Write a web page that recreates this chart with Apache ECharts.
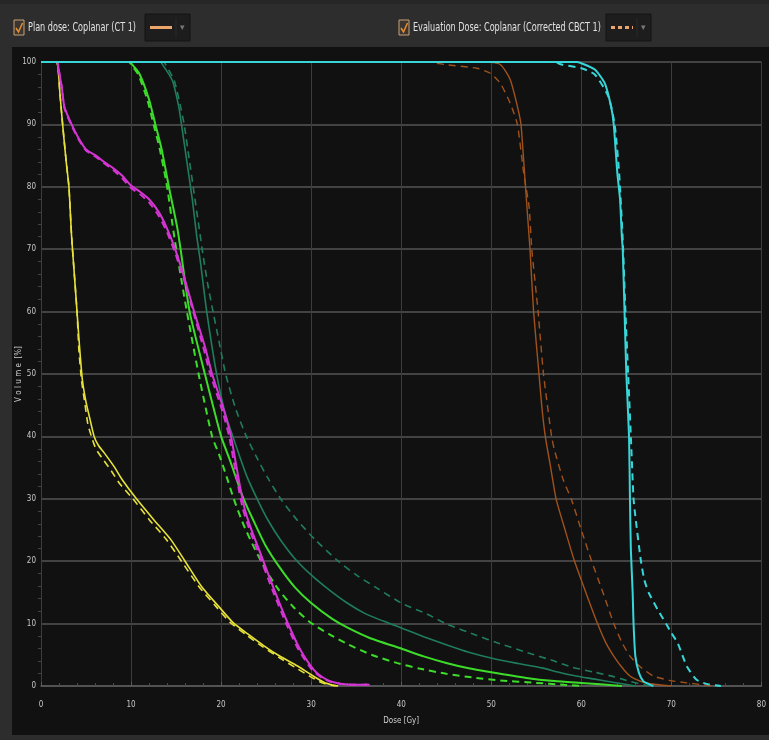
<!DOCTYPE html>
<html>
<head>
<meta charset="utf-8">
<script src="https://cdn.jsdelivr.net/npm/echarts@6/dist/echarts.min.js"></script>
<style>
html,body{margin:0;padding:0;background:#2d2d2d;}
#c{width:769px;height:740px;}
</style>
</head>
<body>
<div id="c"></div>
<script>
// Axis ticks
const xTicks = [0,10,20,30,40,50,60,70,80];
const yTicks = [0,10,20,30,40,50,60,70,80,90,100];
const legendPlan = 'Plan dose: Coplanar (CT 1)';
const legendEval = 'Evaluation Dose: Coplanar (Corrected CBCT 1)';

// [dose Gy, volume %]
const yellowPlan = [[0,100],[1.7,100],[1.9,99],[2.1,95],[2.4,90],[2.8,84],[3.1,80],[3.4,72],[3.7,66],[4.0,60],[4.3,54],[4.6,49],[5.0,45.5],[5.4,43],[5.9,40],[6.4,38.5],[7.0,37.4],[8.1,35.2],[9.0,33.1],[10.6,30],[12.5,26.7],[14.4,23.5],[16.0,20],[17.8,16],[19.7,12.8],[21.3,10.2],[23.0,8.3],[24.8,6.4],[26.5,4.8],[28.5,3.2],[30.0,1.8],[31.4,0.6],[32.5,0.1],[33,0]];
const yellowEval = [[0,100],[1.7,100],[1.9,99],[2.1,95],[2.4,90],[2.8,84],[3.1,80],[3.4,72],[3.7,66],[4.0,60],[4.2,54],[4.5,49],[4.9,45],[5.2,42],[5.6,40],[6.1,38],[6.8,36.5],[7.8,34.5],[8.7,32.5],[10.2,30],[12.0,26.7],[13.9,23.5],[15.6,20],[17.5,16],[19.4,12.8],[21.0,10.2],[22.8,8.2],[24.6,6.3],[26.4,4.6],[28.2,3.0],[29.8,1.6],[31.2,0.5],[32.3,0.1],[33,0]];

const magentaPlan = [[0,100],[1.8,100],[1.9,99.3],[2.3,96],[2.6,92.8],[3.4,90],[4.1,88],[5.0,86],[6.1,85],[7.0,84],[8.0,83],[9.0,81.8],[10.0,80.2],[11.0,79.2],[12.0,78],[13.1,75.9],[14.0,73.3],[14.9,70],[16.0,65],[17.0,60],[18.2,54.4],[19.0,50],[20.4,43.8],[21.1,40],[21.6,36],[22.1,32],[22.6,28.5],[23.3,25.3],[24.2,21.9],[25.9,15.4],[27.4,10.1],[28.8,5.8],[30.3,2.6],[31.5,1.2],[32.5,0.6],[34,0.25],[36.5,0.2]];
const magentaEval = [[0,100],[1.8,100],[1.9,99.3],[2.3,96],[2.6,92.6],[3.4,89.8],[4.1,87.8],[5.0,85.8],[6.1,84.8],[7.0,83.8],[8.0,82.7],[9.0,81.4],[10.0,79.8],[11.0,78.8],[12.0,77.5],[13.1,75.3],[14.0,72.7],[14.9,69.4],[15.9,65],[16.9,60],[18.0,54.4],[18.8,50],[20.2,43.8],[20.9,40],[21.4,36],[21.9,32],[22.4,28.5],[23.1,25.3],[24.0,21.9],[25.7,15.4],[27.2,10.1],[28.6,5.8],[30.1,2.6],[31.3,1.2],[32.3,0.6],[33.8,0.25],[36.3,0.2]];

const greenPlan = [[0,100],[9.8,100],[10.0,99.8],[10.9,98.2],[12.0,94],[12.7,90],[13.4,86],[14.2,80],[15.1,73.7],[15.5,70],[16.5,60],[18.2,50],[20.0,40],[20.9,36.5],[21.7,33.2],[22.5,30],[23.5,26.8],[24.9,22.6],[26.5,19],[28.2,15.8],[30.0,13.3],[32.3,10.8],[34.1,9.3],[36.5,7.7],[40.0,6.0],[42.5,4.75],[45.0,3.7],[47.5,2.85],[50.0,2.2],[53.9,1.3],[57.0,0.8],[60.0,0.5],[62.5,0.25],[64.5,0]];
const greenEval = [[0,100],[9.8,100],[10.0,99.6],[10.8,98],[11.8,94],[12.5,90],[13.2,86],[14.0,80],[14.8,72],[15.6,65],[16.2,60],[17.5,50],[19.0,40],[19.8,37],[20.6,33.6],[21.4,30],[22.5,25.8],[23.8,21.8],[25.0,18.5],[26.4,15.4],[28.0,12.7],[29.8,10.3],[32.0,8.3],[34.2,6.6],[36.7,5.0],[39.5,3.7],[42.0,2.8],[45.0,1.95],[48.0,1.35],[51.0,0.9],[55.0,0.5],[58.0,0.2],[60.0,0]];

const darkGreenPlan = [[0,100],[13.2,100],[13.4,99.8],[14.6,97],[15.3,92.8],[15.6,90],[16.2,84],[16.8,78],[17.3,72],[17.7,68],[18.4,60],[19.5,50],[20.4,44],[21.3,40],[22.8,33.8],[24.0,30],[25.2,26.6],[26.6,23.4],[28.2,20.4],[30.0,17.8],[32.0,15.4],[34.0,13.3],[36.0,11.6],[38.0,10.4],[40.0,9.3],[42.5,7.9],[45.0,6.6],[47.5,5.4],[50.2,4.4],[53.0,3.6],[55.6,2.9],[57.5,2.2],[59.4,1.6],[61.5,1.1],[63.5,0.6],[66,0]];
const darkGreenEval = [[0,100],[13.6,100],[13.8,99.7],[14.8,97],[15.5,92.8],[15.9,90],[16.5,84],[17.0,79],[17.5,74],[18.0,69],[18.5,64.5],[19.1,60],[19.8,55],[20.5,50],[21.6,44.5],[22.8,40],[24.0,36.5],[25.2,33.3],[26.7,29.8],[28.5,26.5],[30.4,23.5],[33.0,20],[35.0,17.8],[37.4,15.6],[40.0,13.3],[42.9,11.5],[45.1,9.9],[48.4,8.1],[50.5,7.0],[53.9,5.4],[57.0,4.0],[59.0,3.0],[61.5,2.2],[63.6,1.5],[65.5,0.7],[67,0.2],[68,0]];

const brownPlan = [[0,100],[49.5,100],[51.0,99.6],[52.1,97.2],[52.9,92.9],[53.3,90],[53.8,80],[54.2,72],[54.3,70],[54.7,60],[55.3,50],[55.6,45],[56.0,40],[56.6,35],[57.2,30],[58.2,25],[59.2,20.2],[60.5,15],[61.8,10],[62.7,7],[63.6,4.8],[64.5,3],[65.4,1.6],[66.5,0.8],[67.5,0.4],[70,0]];
const brownEval = [[0,100],[43,100],[44.8,99.6],[48.4,99],[49.9,98.2],[51.0,96.6],[52.1,93.4],[52.9,90],[53.6,82.2],[54.2,76.8],[54.5,70],[55.2,60],[55.8,50],[56.7,40],[57.0,37.9],[58.0,33],[58.9,29.9],[60.0,25],[61.1,20.2],[62.4,15],[63.6,10],[64.5,7],[65.4,4.8],[66.6,3],[68,1.6],[69.8,0.9],[71.7,0.5],[73.5,0.2],[74.5,0]];

const cyanPlan = [[0,100],[59.5,100],[60.0,99.8],[61.5,98.8],[62.6,96.6],[63.3,92.9],[63.6,90],[64.0,82.2],[64.3,78],[64.5,72],[64.6,70],[64.8,60],[65.0,50],[65.3,40],[65.4,30],[65.5,21.9],[65.7,15],[65.8,10],[66.0,4.8],[66.4,2.1],[66.9,0.75],[67.5,0.3],[68.0,0]];
const cyanEval = [[0,100],[57,100],[57.8,99.6],[60.0,99],[61.5,98],[63.0,94.5],[63.7,90],[64.2,82.2],[64.6,71.5],[64.9,60],[65.2,50],[65.5,40],[65.8,30],[66.0,27.2],[66.6,20.2],[67.0,17],[67.5,14.9],[68.5,12.2],[69.4,10],[70.0,8.5],[70.7,6.9],[71.7,3.2],[72.8,1.0],[74,0.3],[75.5,0]];

const curves = [
  {name:'darkGreen', plan:darkGreenPlan, evalD:darkGreenEval, color:'#1f7d5c', w:1.6},
  {name:'green', plan:greenPlan, evalD:greenEval, color:'#3ddc2a', w:2},
  {name:'yellow', plan:yellowPlan, evalD:yellowEval, color:'#e6e23a', w:1.6},
  {name:'magenta', plan:magentaPlan, evalD:magentaEval, color:'#d435d4', w:2},
  {name:'brown', plan:brownPlan, evalD:brownEval, color:'#a0521c', w:1.4},
  {name:'cyan', plan:cyanPlan, evalD:cyanEval, color:'#38d6d8', w:2}
];

const series = [];
curves.forEach(c => {
  series.push({type:'line', name:c.name+' eval', data:c.evalD, showSymbol:false, smooth:0.2,
    lineStyle:{color:c.color, width:c.w, type:[7,5]}, silent:true, animation:false});
  series.push({type:'line', name:c.name+' plan', data:c.plan, showSymbol:false, smooth:0.2,
    lineStyle:{color:c.color, width:c.w, type:'solid'}, silent:true, animation:false});
});

const txtFont = "'Liberation Sans Narrow','DejaVu Sans Condensed',sans-serif";
const axisFont = "'DejaVu Sans Condensed','Liberation Sans Narrow',sans-serif";

function checkbox(x){
  return [
    {type:'rect', shape:{x:x, y:20, width:10, height:15}, style:{fill:'#3a3530', stroke:'#c9a276', lineWidth:1}},
    {type:'polyline', shape:{points:[[x+2,28],[x+4.5,32],[x+8.5,23]]}, style:{stroke:'#e8902e', lineWidth:1.5, fill:null}}
  ];
}
function dropdown(x, dashed){
  const els = [
    {type:'rect', shape:{x:x, y:14, width:45, height:27}, style:{fill:'#1d1d1d', stroke:'#141414', lineWidth:1}},
    {type:'line', shape:{x1:x+31, y1:18, x2:x+31, y2:37}, style:{stroke:'#2a2a2a', lineWidth:1}},
    {type:'text', style:{x:x+37, y:28, text:'▾', fill:'#777', font:'9px sans-serif', textAlign:'center', textVerticalAlign:'middle'}}
  ];
  els.push({type:'line', shape:{x1:x+5, y1:27.5, x2:x+27, y2:27.5},
    style:{stroke:'#e9a56a', lineWidth:3, lineDash: dashed ? [4,3] : null}});
  return els;
}
function legendText(x, str){
  return {type:'text', x:x, y:28, scaleX:0.75, scaleY:1,
    style:{x:0, y:0, text:str, fill:'#e2e2e2', font:'12px '+txtFont, textVerticalAlign:'middle'}};
}

const graphics = [
  {type:'rect', z:-10, silent:true, shape:{x:12, y:47, width:757, height:688}, style:{fill:'#111111'}},
  {type:'rect', z:-10, silent:true, shape:{x:0, y:0, width:769, height:4}, style:{fill:'#262626'}},
  ...checkbox(14),
  legendText(28, legendPlan),
  ...dropdown(145, false),
  ...checkbox(399),
  legendText(413, legendEval),
  ...dropdown(606, true)
];

const chart = echarts.init(document.getElementById('c'), null, {renderer:'canvas'});
chart.setOption({
  backgroundColor:'#2d2d2d',
  animation:false,
  graphic: graphics,
  grid:{left:41, right:3, top:62, bottom:54, containLabel:false},
  xAxis:{
    type:'value', min:0, max:80, interval:10, offset:4,
    name:'Dose [Gy]', nameLocation:'middle', nameGap:27, nameMoveOverlap:false,
    nameTextStyle:{color:'#cfcfcf', fontSize:8, fontFamily:axisFont},
    axisLine:{show:true, lineStyle:{color:'#5a5a5a', width:1.5}},
    axisTick:{show:true, inside:true, length:4, lineStyle:{color:'#5a5a5a'}},
    minorTick:{show:true, splitNumber:5, length:3, lineStyle:{color:'#4a4a4a'}},
    axisLabel:{color:'#c8c8c8', fontSize:8, fontFamily:axisFont, margin:11,
      formatter: v => xTicks.includes(v) ? String(v) : ''},
    splitLine:{show:true, lineStyle:{color:'#3c3c3c', width:1}}
  },
  yAxis:{
    type:'value', min:0, max:100, interval:10,
    name:'V o l u m e  [%]', nameLocation:'middle', nameGap:18, nameRotate:90, nameMoveOverlap:false,
    nameTextStyle:{color:'#cfcfcf', fontSize:8, fontFamily:axisFont},
    axisLine:{show:true, lineStyle:{color:'#3c3c3c', width:1}},
    axisTick:{show:false},
    minorTick:{show:true, splitNumber:5, length:3, lineStyle:{color:'#444'}},
    axisLabel:{color:'#c8c8c8', fontSize:8, fontFamily:axisFont, margin:5,
      formatter: v => yTicks.includes(v) ? String(v) : ''},
    splitLine:{show:true, lineStyle:{color:'#555', width:1.5}}
  },
  series: series
});
</script>
</body>
</html>
